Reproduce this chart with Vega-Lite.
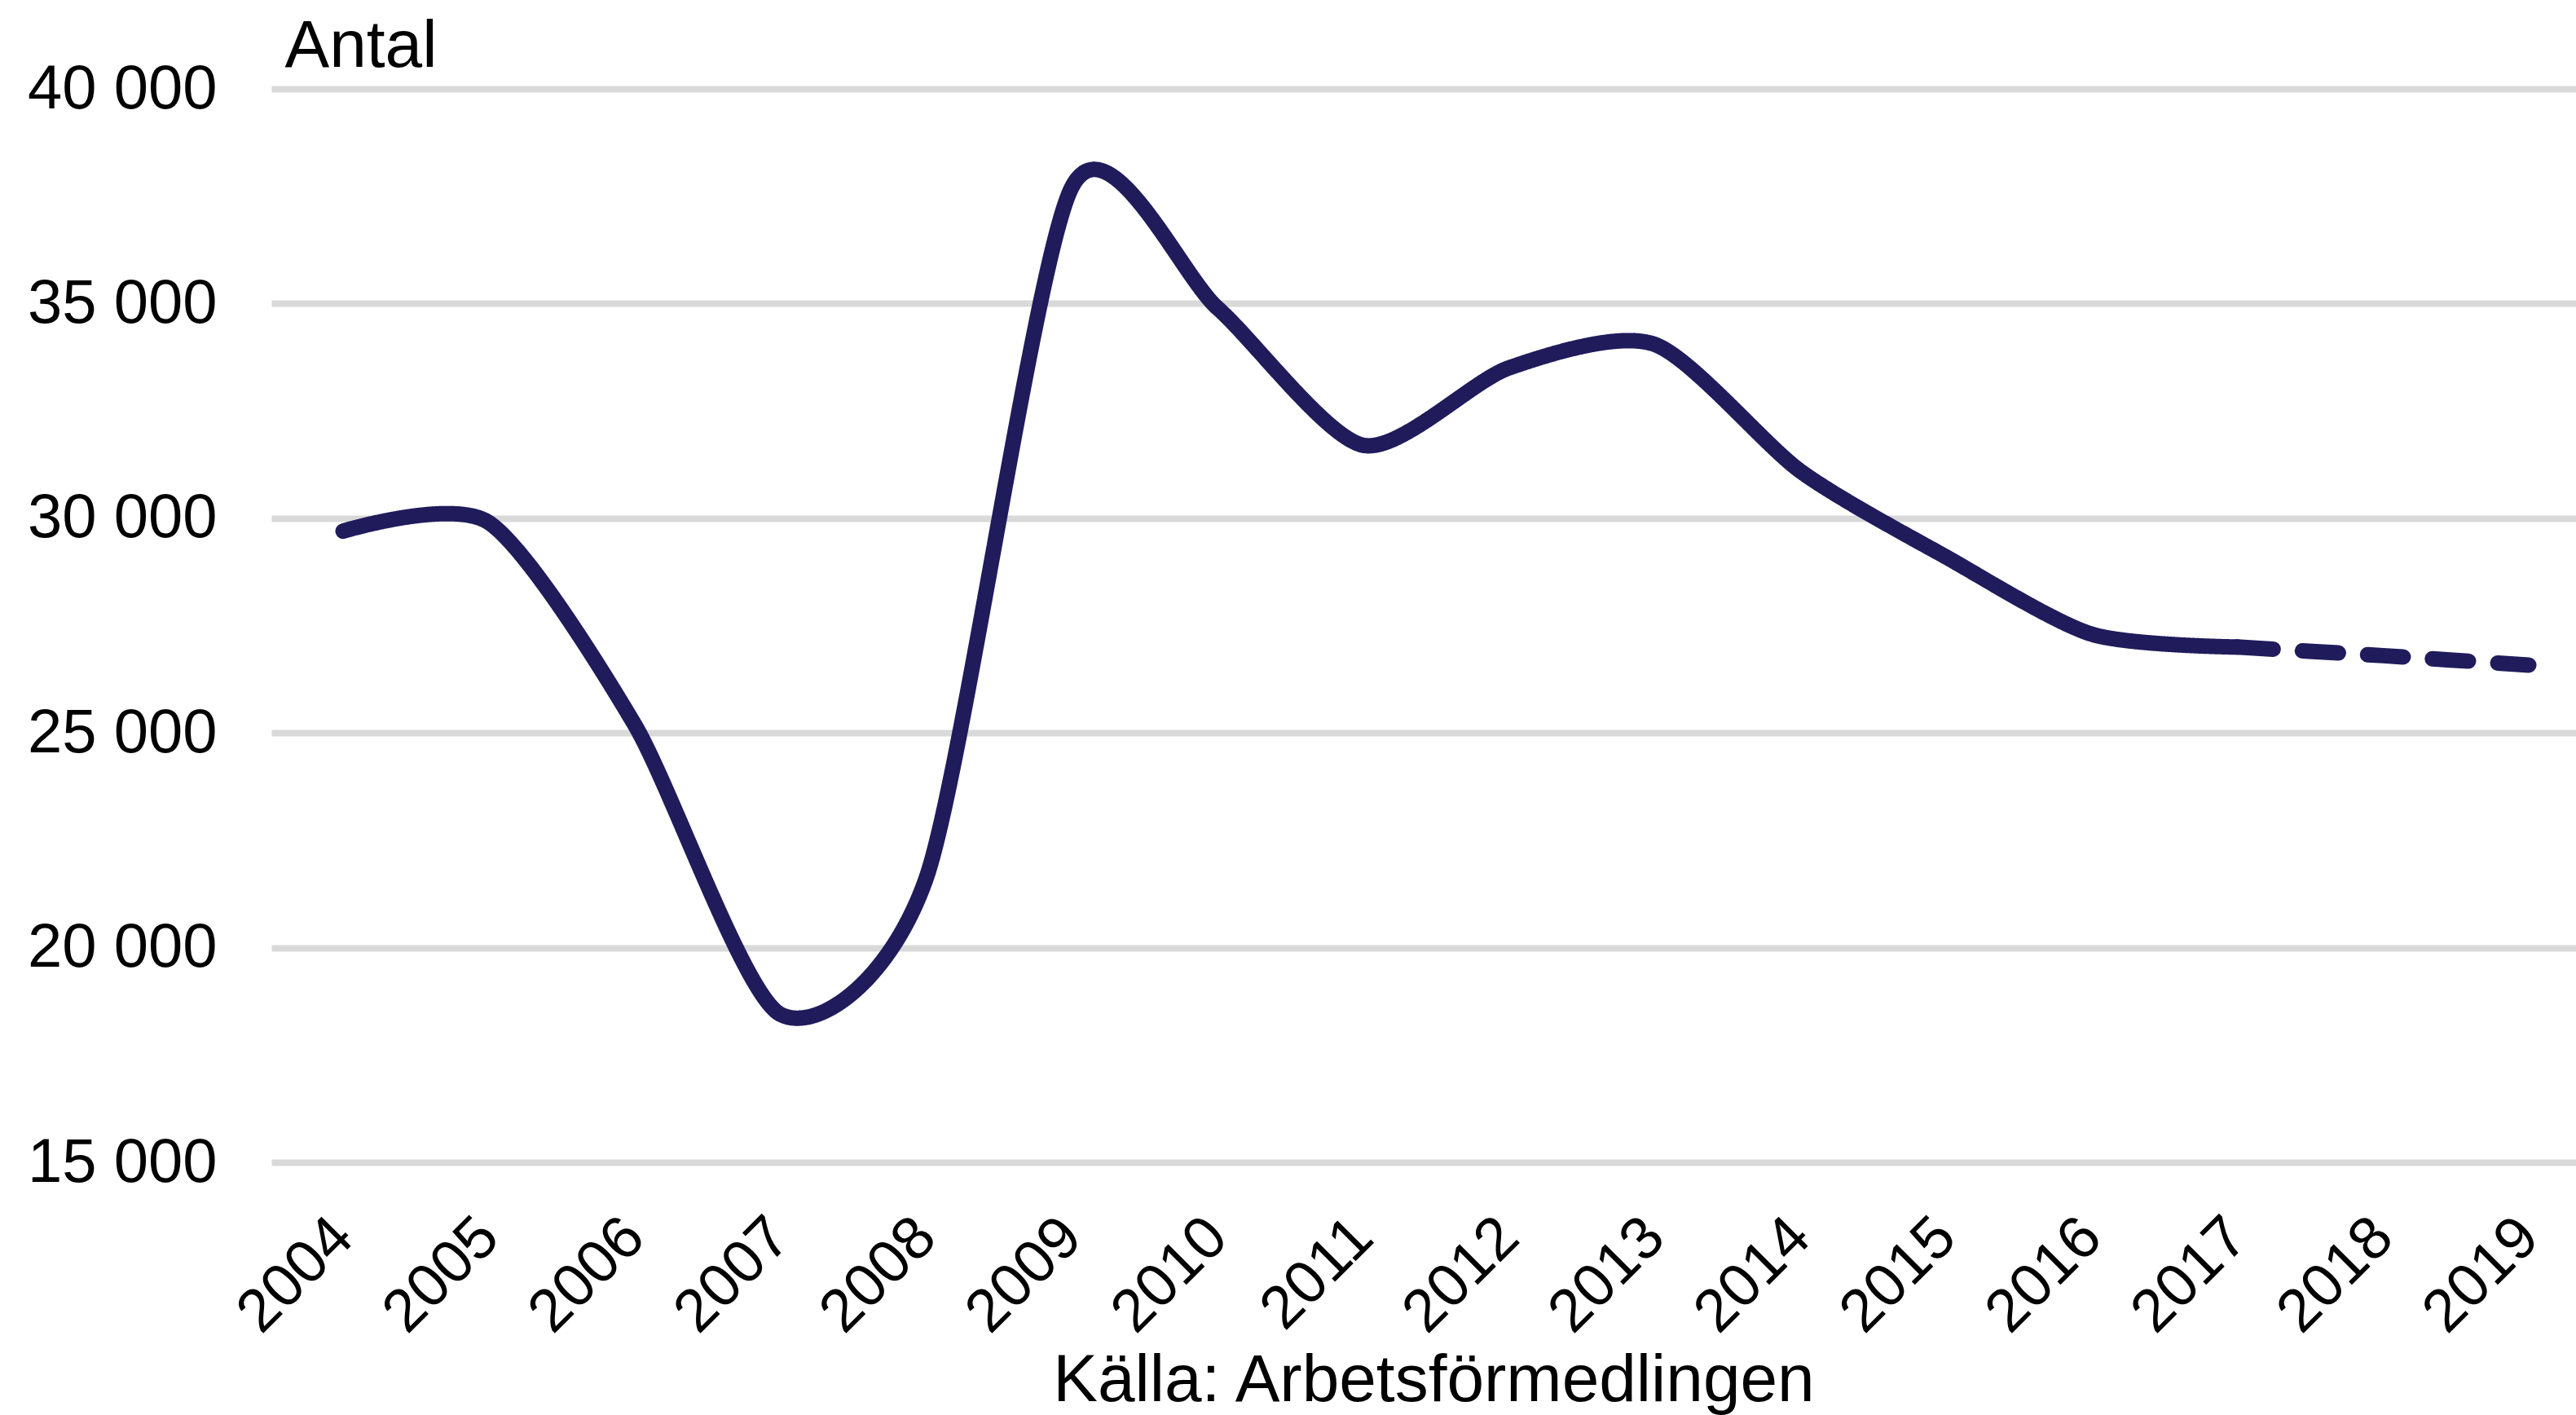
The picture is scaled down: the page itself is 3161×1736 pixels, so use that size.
{
  "$schema": "https://vega.github.io/schema/vega-lite/v6.json",
  "width": 2828,
  "height": 1317,
  "autosize": {"type": "none"},
  "padding": {"left": 333, "top": 109, "right": 0, "bottom": 310},
  "background": "white",
  "config": {"view": {"stroke": null}, "font": "Liberation Sans"},
  "data": {
    "values": [
      {"year": 2004, "value": 29700, "serie": "Utfall"},
      {"year": 2005, "value": 29900, "serie": "Utfall"},
      {"year": 2006, "value": 25200, "serie": "Utfall"},
      {"year": 2007, "value": 18450, "serie": "Utfall"},
      {"year": 2008, "value": 21600, "serie": "Utfall"},
      {"year": 2009, "value": 37700, "serie": "Utfall"},
      {"year": 2010, "value": 34900, "serie": "Utfall"},
      {"year": 2011, "value": 31700, "serie": "Utfall"},
      {"year": 2012, "value": 33500, "serie": "Utfall"},
      {"year": 2013, "value": 34050, "serie": "Utfall"},
      {"year": 2014, "value": 31100, "serie": "Utfall"},
      {"year": 2015, "value": 29100, "serie": "Utfall"},
      {"year": 2016, "value": 27300, "serie": "Utfall"},
      {"year": 2017, "value": 27000, "serie": "Utfall"},
      {"year": 2017, "value": 27000, "serie": "Prognos"},
      {"year": 2018, "value": 26800, "serie": "Prognos"},
      {"year": 2019, "value": 26580, "serie": "Prognos"}
    ]
  },
  "mark": {
    "type": "line",
    "interpolate": "cardinal",
    "tension": 0.25,
    "strokeWidth": 19,
    "strokeCap": "round",
    "color": "#201b5b",
    "clip": false
  },
  "encoding": {
    "x": {
      "field": "year",
      "type": "quantitative",
      "scale": {"domain": [2003.508, 2019.324], "nice": false, "zero": false},
      "axis": {
        "values": [2004, 2005, 2006, 2007, 2008, 2009, 2010, 2011, 2012, 2013, 2014, 2015, 2016, 2017, 2018, 2019],
        "format": "d",
        "labelAngle": -45,
        "labelAlign": "right",
        "labelBaseline": "middle",
        "labelFontSize": 74,
        "labelColor": "#000000",
        "labelPadding": 80,
        "labelFlush": false,
        "labelOverlap": false,
        "labelBound": false,
        "labelLimit": 0,
        "ticks": false,
        "domain": false,
        "grid": false,
        "title": "Källa: Arbetsförmedlingen",
        "titleFontSize": 82,
        "titleFontWeight": "normal",
        "titleColor": "#000000",
        "titleX": 1426,
        "titleY": 292,
        "titleAlign": "center",
        "titleBaseline": "alphabetic",
        "titleLimit": 0
      }
    },
    "y": {
      "field": "value",
      "type": "quantitative",
      "scale": {"domain": [15000, 40000], "nice": false, "zero": false},
      "axis": {
        "values": [15000, 20000, 25000, 30000, 35000, 40000],
        "labelExpr": "replace(format(datum.value, ','), ',', ' ')",
        "labelFontSize": 76,
        "labelColor": "#000000",
        "labelPadding": 67,
        "labelLimit": 0,
        "ticks": false,
        "domain": false,
        "grid": true,
        "gridColor": "#d9d9d9",
        "gridWidth": 8,
        "title": "Antal",
        "titleAngle": 0,
        "titleX": 16,
        "titleY": -28,
        "titleAlign": "left",
        "titleBaseline": "alphabetic",
        "titleFontSize": 82,
        "titleFontWeight": "normal",
        "titleColor": "#000000",
        "titleLimit": 0
      }
    },
    "strokeDash": {
      "field": "serie",
      "type": "nominal",
      "scale": {"domain": ["Utfall", "Prognos"], "range": [[1, 0], [44, 36]]},
      "legend": null
    }
  }
}
